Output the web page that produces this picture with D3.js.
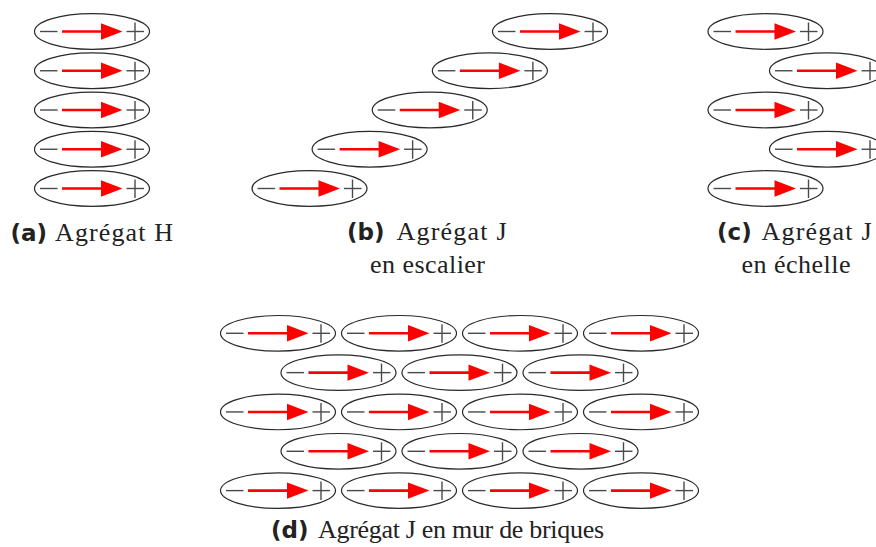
<!DOCTYPE html>
<html><head><meta charset="utf-8">
<script src="https://d3js.org/d3.v7.min.js"></script>
<style>html,body{margin:0;padding:0;background:#fff;}svg{display:block;}</style>
</head><body>
<script>
// ---- data ----
const rowIndex = [0, 1, 2, 3, 4];
const aCols = [0, 0, 0, 0, 0];          // H-aggregate: stacked
const bCols = [4, 3, 2, 1, 0];          // staircase
const cCols = [0, 1, 0, 1, 0];          // ladder
const dRows = [[0, 1, 2, 3], [0.5, 1.5, 2.5], [0, 1, 2, 3], [0.5, 1.5, 2.5], [0, 1, 2, 3]]; // brick wall
const captionLabels = ["(a)", "(b)", "(c)", "(d)"];
const captionLine1 = ["Agrégat H", "Agrégat J", "Agrégat J", "Agrégat J en mur de briques"];
const captionLine2 = ["", "en escalier", "en échelle", ""];

const W = 876, H = 547;
const svg = d3.select("body").append("svg").attr("width", W).attr("height", H);

const RX = 57.5, RY = 17.8;
const yTop = d3.scaleLinear().domain([0, 4]).range([31.5, 188.5]);
const xA = d3.scaleLinear().domain([0, 1]).range([92, 152]);
const xB = d3.scaleLinear().domain([0, 4]).range([309.5, 550]);
const xC = d3.scaleLinear().domain([0, 1]).range([765.5, 827]);
const yD = d3.scaleLinear().domain([0, 4]).range([333.3, 490.6]);
const xD = d3.scaleLinear().domain([0, 3]).range([278, 641]);

function dipole(g, cx, cy) {
  const d = g.append("g").attr("transform", `translate(${cx},${cy})`);
  d.append("ellipse").attr("rx", RX).attr("ry", RY)
    .attr("fill", "none").attr("stroke", "#2a2a2a").attr("stroke-width", 1.2);
  d.append("line").attr("x1", -52).attr("x2", -34.5).attr("y1", 0).attr("y2", 0)
    .attr("stroke", "#4a4a4a").attr("stroke-width", 1.4);
  d.append("line").attr("x1", -30).attr("x2", 12).attr("y1", 0).attr("y2", 0)
    .attr("stroke", "#ff0000").attr("stroke-width", 2.6);
  d.append("path").attr("d", "M9,-8.2 L30.5,0 L9,8.2 Z").attr("fill", "#ff0000");
  d.append("line").attr("x1", 34.5).attr("x2", 52).attr("y1", 0).attr("y2", 0)
    .attr("stroke", "#4a4a4a").attr("stroke-width", 1.4);
  d.append("line").attr("x1", 43).attr("x2", 43).attr("y1", -9).attr("y2", 9.5)
    .attr("stroke", "#4a4a4a").attr("stroke-width", 1.4);
}

const g = svg.append("g");
rowIndex.forEach((r, i) => dipole(g, xA(aCols[i]), yTop(r)));
rowIndex.forEach((r, i) => dipole(g, xB(bCols[i]), yTop(r)));
rowIndex.forEach((r, i) => dipole(g, xC(cCols[i]), yTop(r)));
dRows.forEach((cols, r) => cols.forEach(c => dipole(g, xD(c), yD(r))));

// captions: label x, line-1 x/width, line-2 x/width, baseline
const capLayout = [
  {lx: 10.5, y: 241, x1: 55, w1: 118},
  {lx: 347, y: 240, x1: 396.5, w1: 110, x2: 370, w2: 115},
  {lx: 717, y: 240, x1: 761.5, w1: 110, x2: 741.5, w2: 109},
  {lx: 271, y: 538, x1: 318, w1: 286}
];
const serif = "'Liberation Serif','Times New Roman',serif";
const sans = "'DejaVu Sans',sans-serif";
captionLabels.forEach((lab, i) => {
  const p = capLayout[i];
  svg.append("text").attr("x", p.lx).attr("y", p.y).attr("fill", "#222")
    .attr("font-family", sans).attr("font-weight", "bold").attr("font-size", 23)
    .text(lab);
  svg.append("text").attr("x", p.x1).attr("y", p.y).attr("fill", "#222")
    .attr("font-family", serif).attr("font-size", 26)
    .attr("textLength", p.w1).attr("lengthAdjust", "spacing")
    .text(captionLine1[i]);
  if (captionLine2[i]) {
    svg.append("text").attr("x", p.x2).attr("y", p.y + 33).attr("fill", "#222")
      .attr("font-family", serif).attr("font-size", 26)
      .attr("textLength", p.w2).attr("lengthAdjust", "spacing")
      .text(captionLine2[i]);
  }
});
</script>
</body></html>
